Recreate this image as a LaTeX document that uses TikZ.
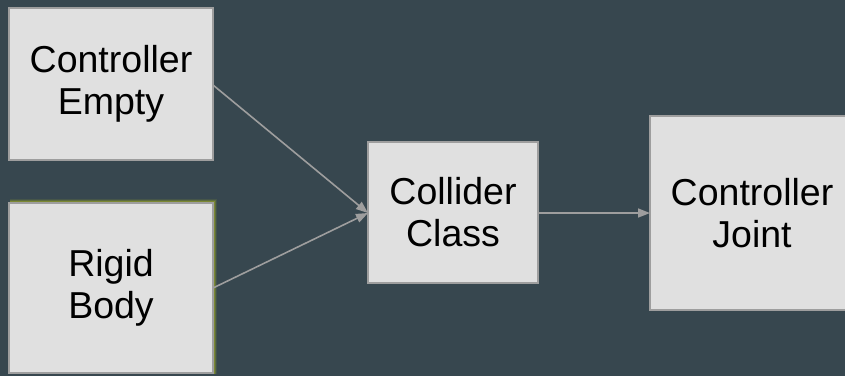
\documentclass[tikz,border=0pt]{standalone}
\usepackage{fontspec}
\setmainfont{Liberation Sans}
\usetikzlibrary{arrows.meta}
\definecolor{bg}{HTML}{37474F}
\definecolor{boxfill}{HTML}{E0E0E0}
\definecolor{boxline}{HTML}{9E9E9E}
\definecolor{glow}{HTML}{9AA52A}
\tikzset{
  blk/.style={draw=boxline, fill=boxfill, line width=1.5pt},
  lbl/.style={align=center, font=\fontsize{37.5}{42}\selectfont, text=black},
  conn/.style={draw=boxline, line width=1.6pt, -{Triangle[length=12pt,width=9pt]}}
}
\begin{document}
\begin{tikzpicture}[x=1pt,y=-1pt]
\fill[bg] (0,0) rectangle (845,376);
\useasboundingbox (0,0) rectangle (845,376);
\begin{scope}
\clip (0,0) rectangle (845,376);
% glow on rigid body
\foreach \w/\o in {6/0.15,4/0.3,2/0.5}{
  \draw[glow, opacity=\o, line width=\w pt] (10,202) -- (214,202) -- (214,374);
}
\draw[blk] (9,8) rectangle (213,160);
\draw[blk] (9,203) rectangle (213,373);
\draw[blk] (368,142) rectangle (538,283);
\draw[blk] (650,116) rectangle (856,310);
\end{scope}
\node[lbl] (ce) at (111,84) {Controller\\Empty};
\node[lbl] (rb) at (111,288) {Rigid\\Body};
\node[lbl] (cc) at (453,212) {Collider\\Class};
\node[lbl] (cj) at (752,213) {Controller\\Joint};
\coordinate (ceout) at (213,85);
\coordinate (rbout) at (213,288);
\coordinate (ccin) at (368,213);
\coordinate (ccout) at (538,213);
\coordinate (cjin) at (650,213);
\draw[conn] (ceout) -- (ccin);
\draw[conn] (rbout) -- (ccin);
\draw[conn] (ccout) -- (cjin);
\end{tikzpicture}
\end{document}
